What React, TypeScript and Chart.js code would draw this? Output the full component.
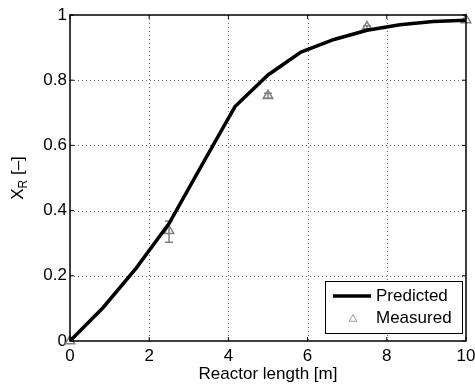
import React, { useEffect, useRef } from "react";
import { Chart, registerables } from "chart.js";
Chart.register(...registerables);

const xPredicted = [0, 0.833, 1.667, 2.5, 3.333, 4.167, 5, 5.833, 6.667, 7.5, 8.333, 9.167, 10];
const yPredicted = [0, 0.102, 0.223, 0.36, 0.54, 0.719, 0.816, 0.886, 0.925, 0.953, 0.97, 0.98, 0.984];
const xMeasured = [0, 2.5, 5, 7.5, 10];
const yMeasured = [0, 0.338, 0.752, 0.963, 0.985];
const errLow = [0, 0.303, 0.745, 0.958, 0.985];
const errHigh = [0, 0.368, 0.76, 0.967, 0.985];
const xTicks = [0, 2, 4, 6, 8, 10];
const yTicks = [0, 0.2, 0.4, 0.6, 0.8, 1];
const xTitle = "Reactor length [m]";
const yTitleMain = "X";
const yTitleSub = "R";
const yTitleRest = " [–]";
const legendLabels = ["Predicted", "Measured"];

const FONT = "'Liberation Sans', Arial, Helvetica, sans-serif";
const FS = 17;
const GRAY = "#808080";

function triangle(ctx: CanvasRenderingContext2D, cx: number, cy: number, r: number) {
  ctx.beginPath();
  let rad = 0;
  for (let i = 0; i < 3; i++) {
    const px = cx + Math.sin(rad) * r;
    const py = cy - Math.cos(rad) * r;
    if (i === 0) ctx.moveTo(px, py);
    else ctx.lineTo(px, py);
    rad += (2 * Math.PI) / 3;
  }
  ctx.closePath();
  ctx.stroke();
}

const deco = {
  id: "deco",
  beforeDatasetsDraw(chart: any) {
    const { ctx, chartArea: a, scales } = chart;
    const x = scales.x;
    const y = scales.y;
    ctx.save();
    ctx.strokeStyle = "rgba(0,0,0,0.6)";
    ctx.lineWidth = 1;
    ctx.setLineDash([1, 3]);
    xTicks.slice(1, -1).forEach((v) => {
      const px = Math.round(x.getPixelForValue(v)) + 0.5;
      ctx.beginPath();
      ctx.moveTo(px, a.top);
      ctx.lineTo(px, a.bottom);
      ctx.stroke();
    });
    yTicks.slice(1, -1).forEach((v) => {
      const py = Math.round(y.getPixelForValue(v)) + 0.5;
      ctx.beginPath();
      ctx.moveTo(a.left, py);
      ctx.lineTo(a.right, py);
      ctx.stroke();
    });
    ctx.setLineDash([]);
    // error bars
    ctx.strokeStyle = GRAY;
    ctx.lineWidth = 1.5;
    xMeasured.forEach((xv, i) => {
      if (errHigh[i] - errLow[i] <= 0) return;
      const px = x.getPixelForValue(xv);
      const lo = y.getPixelForValue(errLow[i]);
      const hi = y.getPixelForValue(errHigh[i]);
      ctx.beginPath();
      ctx.moveTo(px, lo);
      ctx.lineTo(px, hi);
      ctx.moveTo(px - 4, lo);
      ctx.lineTo(px + 4, lo);
      ctx.moveTo(px - 4, hi);
      ctx.lineTo(px + 4, hi);
      ctx.stroke();
    });
    ctx.restore();
  },
  afterDraw(chart: any) {
    const { ctx, chartArea: a, scales } = chart;
    const x = scales.x;
    const y = scales.y;
    ctx.save();
    // box
    ctx.strokeStyle = "#000";
    ctx.lineWidth = 1.5;
    ctx.strokeRect(a.left, a.top, a.right - a.left, a.bottom - a.top);
    // inward ticks
    ctx.lineWidth = 1;
    const tl = 4;
    xTicks.forEach((v) => {
      const px = x.getPixelForValue(v);
      ctx.beginPath();
      ctx.moveTo(px, a.bottom);
      ctx.lineTo(px, a.bottom - tl);
      ctx.moveTo(px, a.top);
      ctx.lineTo(px, a.top + tl);
      ctx.stroke();
    });
    yTicks.forEach((v) => {
      const py = y.getPixelForValue(v);
      ctx.beginPath();
      ctx.moveTo(a.left, py);
      ctx.lineTo(a.left + tl, py);
      ctx.moveTo(a.right, py);
      ctx.lineTo(a.right - tl, py);
      ctx.stroke();
    });
    // x title
    ctx.fillStyle = "#000";
    ctx.font = `${FS}px ${FONT}`;
    ctx.textAlign = "center";
    ctx.textBaseline = "middle";
    ctx.fillText(xTitle, (a.left + a.right) / 2, a.bottom + 33);
    // y title with subscript
    ctx.save();
    ctx.translate(18, (a.top + a.bottom) / 2);
    ctx.rotate(-Math.PI / 2);
    ctx.textAlign = "left";
    ctx.textBaseline = "middle";
    const fMain = `${FS}px ${FONT}`;
    const fSub = `12px ${FONT}`;
    ctx.font = fMain;
    const w1 = ctx.measureText(yTitleMain).width;
    const w3 = ctx.measureText(yTitleRest).width;
    ctx.font = fSub;
    const w2 = ctx.measureText(yTitleSub).width;
    let sx = -(w1 + w2 + w3) / 2;
    ctx.font = fMain;
    ctx.fillText(yTitleMain, sx, 0);
    sx += w1;
    ctx.font = fSub;
    ctx.fillText(yTitleSub, sx, 6);
    sx += w2;
    ctx.font = fMain;
    ctx.fillText(yTitleRest, sx, 0);
    ctx.restore();
    // legend
    const lr = a.right - 4;
    const lb = a.bottom - 8;
    const lw = 137;
    const lh = 52;
    const ll = lr - lw;
    const lt = lb - lh;
    ctx.fillStyle = "#fff";
    ctx.fillRect(ll, lt, lw, lh);
    ctx.strokeStyle = "#000";
    ctx.lineWidth = 1;
    ctx.strokeRect(ll + 0.5, lt + 0.5, lw, lh);
    ctx.lineWidth = 3.5;
    ctx.beginPath();
    ctx.moveTo(ll + 8, lt + 15);
    ctx.lineTo(ll + 46, lt + 15);
    ctx.stroke();
    ctx.strokeStyle = "#999";
    ctx.lineWidth = 1;
    triangle(ctx, ll + 28, lt + 38, 4.5);
    ctx.fillStyle = "#000";
    ctx.font = `${FS}px ${FONT}`;
    ctx.textAlign = "left";
    ctx.textBaseline = "middle";
    ctx.fillText(legendLabels[0], ll + 51, lt + 15);
    ctx.fillText(legendLabels[1], ll + 51, lt + 37);
    ctx.restore();
  },
};

const fmt = (v: any) => String(Math.round(Number(v) * 10) / 10);

export default function App() {
  const ref = useRef<HTMLCanvasElement>(null);
  useEffect(() => {
    if (!ref.current) return;
    const chart = new Chart(ref.current, {
      type: "scatter",
      data: {
        datasets: [
          {
            label: legendLabels[0],
            data: xPredicted.map((v, i) => ({ x: v, y: yPredicted[i] })),
            showLine: true,
            borderColor: "#000",
            borderWidth: 3.5,
            pointRadius: 0,
            tension: 0,
            fill: false,
          },
          {
            label: legendLabels[1],
            data: xMeasured.map((v, i) => ({ x: v, y: yMeasured[i] })),
            showLine: false,
            pointStyle: "triangle",
            pointRadius: 5.5,
            borderColor: GRAY,
            backgroundColor: "rgba(0,0,0,0)",
            borderWidth: 1.5,
            clip: false,
          } as any,
        ],
      },
      options: {
        responsive: false,
        animation: false,
        layout: { padding: { left: 0, right: 9, top: 15, bottom: 0 } },
        plugins: { legend: { display: false }, tooltip: { enabled: false } },
        scales: {
          x: {
            type: "linear",
            min: 0,
            max: 10,
            afterBuildTicks: (s: any) => {
              s.ticks = xTicks.map((v) => ({ value: v }));
            },
            afterFit: (s: any) => {
              s.height = 43;
              s.paddingLeft = 0;
              s.paddingRight = 0;
            },
            grid: { display: false, drawTicks: false },
            border: { display: false },
            ticks: { padding: 5, color: "#000", font: { family: FONT, size: FS }, maxRotation: 0, callback: fmt },
          },
          y: {
            type: "linear",
            min: 0,
            max: 1,
            afterBuildTicks: (s: any) => {
              s.ticks = yTicks.map((v) => ({ value: v }));
            },
            afterFit: (s: any) => {
              s.width = 70;
              s.paddingTop = 0;
              s.paddingBottom = 0;
            },
            grid: { display: false, drawTicks: false },
            border: { display: false },
            ticks: { padding: 3, color: "#000", font: { family: FONT, size: FS }, callback: fmt },
          },
        },
      },
      plugins: [deco],
    });
    return () => chart.destroy();
  }, []);
  return (
    <div style={{ position: "absolute", left: 0, top: 0, width: 475, height: 384, background: "#fff" }}>
      <canvas ref={ref} width={475} height={384} style={{ display: "block" }} />
    </div>
  );
}
